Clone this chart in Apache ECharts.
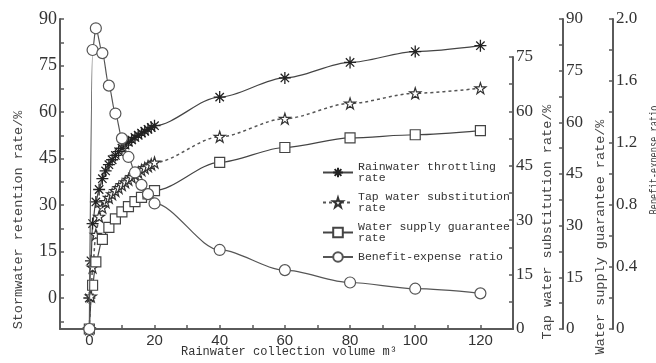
<!DOCTYPE html>
<html>
<head>
<meta charset="utf-8">
<script src="https://cdn.jsdelivr.net/npm/echarts@6/dist/echarts.min.js"></script>
<style>
  html, body { margin: 0; padding: 0; background: #fff; }
  #main { width: 656px; height: 363px; }
</style>
</head>
<body>
<div id="main"></div>
<script>
// rainwater collection volume (m3)
var volumeDense = [0, 0.5, 1, 2, 3, 4, 5, 6, 7, 8, 9, 10, 11, 12, 13, 14, 15, 16, 17, 18, 19, 20, 40, 60, 80, 100, 120];
var volumeSparse = [0, 1, 2, 4, 6, 8, 10, 12, 14, 16, 18, 20, 40, 60, 80, 100, 120];

var throttlingRate = [0, 12, 24, 31, 35, 38.5, 41, 43, 44.6, 46, 47.2, 48.3, 49.3, 50.2, 51, 51.8, 52.5, 53.2, 53.8, 54.4, 55, 55.6, 64.8, 71, 76, 79.5, 81.4];
var tapSubstitutionRate = [0, 9, 17, 26, 31, 33.5, 35, 36.2, 37.2, 38.1, 38.9, 39.7, 40.5, 41.2, 41.9, 42.6, 43.2, 43.8, 44.4, 44.9, 45.4, 45.9, 53, 58, 62.2, 65, 66.4];
var supplyGuaranteeRate = [0, 12.7, 19.5, 26, 29.5, 32, 34, 35.5, 37, 38.2, 39.2, 40.2, 48.4, 52.7, 55.5, 56.4, 57.6];
var benefitRatio = [0, 1.80, 1.94, 1.78, 1.57, 1.39, 1.23, 1.11, 1.01, 0.93, 0.87, 0.81, 0.51, 0.38, 0.30, 0.26, 0.23];

var seriesNames = ['Rainwater throttling rate', 'Tap water substitution rate', 'Water supply guarantee rate', 'Benefit-expense ratio'];
var legendLabels = ['Rainwater throttling\nrate', 'Tap water substitution\nrate', 'Water supply guarantee\nrate', 'Benefit-expense ratio'];

var xLabels = [0, 20, 40, 60, 80, 100, 120];
var xTicks = [0, 10, 20, 30, 40, 50, 60, 70, 80, 90, 100, 110, 120];
var pctLabels = [0, 15, 30, 45, 60, 75, 90];
var pctTicks = [-7.5, 0, 7.5, 15, 22.5, 30, 37.5, 45, 52.5, 60, 67.5, 75, 82.5, 90];
var tapLabels = [0, 15, 30, 45, 60, 75];
var tapTicks = [0, 7.5, 15, 22.5, 30, 37.5, 45, 52.5, 60, 67.5, 75];
var ratioLabels = [0, 0.4, 0.8, 1.2, 1.6, 2.0];
var ratioTicks = [0, 0.2, 0.4, 0.6, 0.8, 1.0, 1.2, 1.4, 1.6, 1.8, 2.0];

function pairs(xs, ys) {
  return xs.map(function (x, i) { return [x, ys[i]]; });
}

var ASTERISK = 'path://M5,0L5,10M0,5L10,5M1.5,1.5L8.5,8.5M1.5,8.5L8.5,1.5';
var STAR = 'path://M50,2L61,36L97,36L68,57L79,92L50,71L21,92L32,57L3,36L39,36Z';

var axisColor = '#5a5a5a';
var textColor = '#333';
var mono = '"Liberation Mono", "DejaVu Sans Mono", monospace';
var serif = '"Liberation Serif", "DejaVu Serif", serif';

function yAxisBase(opts) {
  var a = {
    type: 'value',
    axisLine: { show: true, onZero: false, lineStyle: { color: axisColor, width: 2 } },
    axisTick: { show: true, inside: true, length: 4, lineStyle: { color: axisColor, width: 1.5 } },
    axisLabel: { color: textColor, fontFamily: serif, fontSize: 18, margin: 3 },
    splitLine: { show: false }
  };
  return echarts.util.merge(a, opts, true);
}

function axisTitle(text, x, y, extra) {
  var g = {
    type: 'text', x: x, y: y, rotation: Math.PI / 2,
    style: { text: text, font: '13.5px ' + mono, fill: '#444', textAlign: 'center', textVerticalAlign: 'middle' }
  };
  return echarts.util.merge(g, extra || {}, true);
}

var chart = echarts.init(document.getElementById('main'), null, { renderer: 'canvas' });

var option = {
  backgroundColor: '#fff',
  animation: false,
  grid: [
    { left: 60, right: 143, top: 19, bottom: 34, outerBoundsMode: 'none' },
    { left: 60, right: 143, top: 57, bottom: 34, outerBoundsMode: 'none' }
  ],
  xAxis: [
    {
      type: 'value', gridIndex: 0, min: -9, max: 130,
      axisLine: { onZero: false, lineStyle: { color: axisColor, width: 2 } },
      axisTick: { inside: true, length: 4, customValues: xTicks, lineStyle: { color: axisColor, width: 1.5 } },
      axisLabel: { customValues: xLabels, color: textColor, fontFamily: '"Liberation Sans", Arial, sans-serif', fontSize: 15, margin: 4 },
      splitLine: { show: false }
    },
    {
      type: 'value', gridIndex: 1, min: -9, max: 130, show: false
    }
  ],
  yAxis: [
    yAxisBase({
      gridIndex: 0, position: 'left', min: -10, max: 90,
      axisTick: { customValues: pctTicks },
      axisLabel: { customValues: pctLabels }
    }),
    yAxisBase({
      gridIndex: 0, position: 'right', offset: 50, min: 0, max: 90,
      axisTick: { customValues: pctTicks.slice(1) },
      axisLabel: { customValues: pctLabels, fontSize: 17 }
    }),
    yAxisBase({
      gridIndex: 0, position: 'right', offset: 100, min: 0, max: 2,
      axisTick: { customValues: ratioTicks },
      axisLabel: { customValues: ratioLabels, fontSize: 17, formatter: function (v) { return v === 0 ? '0' : v.toFixed(1); } }
    }),
    yAxisBase({
      gridIndex: 1, position: 'right', offset: 0, min: 0, max: 75,
      axisTick: { customValues: tapTicks },
      axisLabel: { customValues: tapLabels, fontSize: 17 }
    })
  ],
  legend: {
    orient: 'vertical',
    left: 317, top: 156,
    itemWidth: 30, itemHeight: 12, itemGap: 7,
    data: seriesNames,
    formatter: function (name) { return legendLabels[seriesNames.indexOf(name)]; },
    textStyle: { fontFamily: mono, fontSize: 11.5, lineHeight: 11, color: textColor }
  },
  graphic: [
    axisTitle('Stormwater retention rate/%', 18, 220),
    axisTitle('Tap water substitution rate/%', 547, 222),
    axisTitle('Water supply guarantee rate/%', 600, 237),
    axisTitle('Benefit-expense ratio', 654, 160, { scaleX: 0.64 }),
    {
      type: 'text', x: 289, y: 352,
      style: { text: 'Rainwater collection volume m³', font: '12px ' + mono, fill: textColor, textAlign: 'center', textVerticalAlign: 'middle' }
    }
  ],
  series: [
    {
      name: seriesNames[0], type: 'line', xAxisIndex: 0, yAxisIndex: 0,
      data: pairs(volumeDense, throttlingRate),
      smooth: 0.3, smoothMonotone: 'x',
      symbol: ASTERISK, symbolSize: 12,
      itemStyle: { color: 'rgba(0,0,0,0)', borderColor: '#222', borderWidth: 1.3 },
      lineStyle: { color: '#444', width: 1.2 },
      z: 3
    },
    {
      name: seriesNames[1], type: 'line', xAxisIndex: 1, yAxisIndex: 3,
      data: pairs(volumeDense, tapSubstitutionRate),
      smooth: 0.3, smoothMonotone: 'x',
      symbol: STAR, symbolSize: 11,
      itemStyle: { color: '#fff', borderColor: '#333', borderWidth: 1.2 },
      lineStyle: { color: '#555', width: 1.5, type: [3, 3] },
      z: 3
    },
    {
      name: seriesNames[2], type: 'line', xAxisIndex: 0, yAxisIndex: 1,
      data: pairs(volumeSparse, supplyGuaranteeRate),
      smooth: 0.3, smoothMonotone: 'x',
      symbol: 'rect', symbolSize: 10,
      itemStyle: { color: '#fff', borderColor: '#444', borderWidth: 1.2 },
      lineStyle: { color: '#444', width: 1.2 },
      z: 3
    },
    {
      name: seriesNames[3], type: 'line', xAxisIndex: 0, yAxisIndex: 2,
      data: pairs(volumeSparse, benefitRatio),
      smooth: 0.3, smoothMonotone: 'x',
      symbol: 'circle', symbolSize: 11,
      itemStyle: { color: '#fff', borderColor: '#555', borderWidth: 1.2 },
      lineStyle: { color: '#555', width: 1.2 },
      z: 4
    }
  ]
};

chart.setOption(option);
</script>
</body>
</html>
